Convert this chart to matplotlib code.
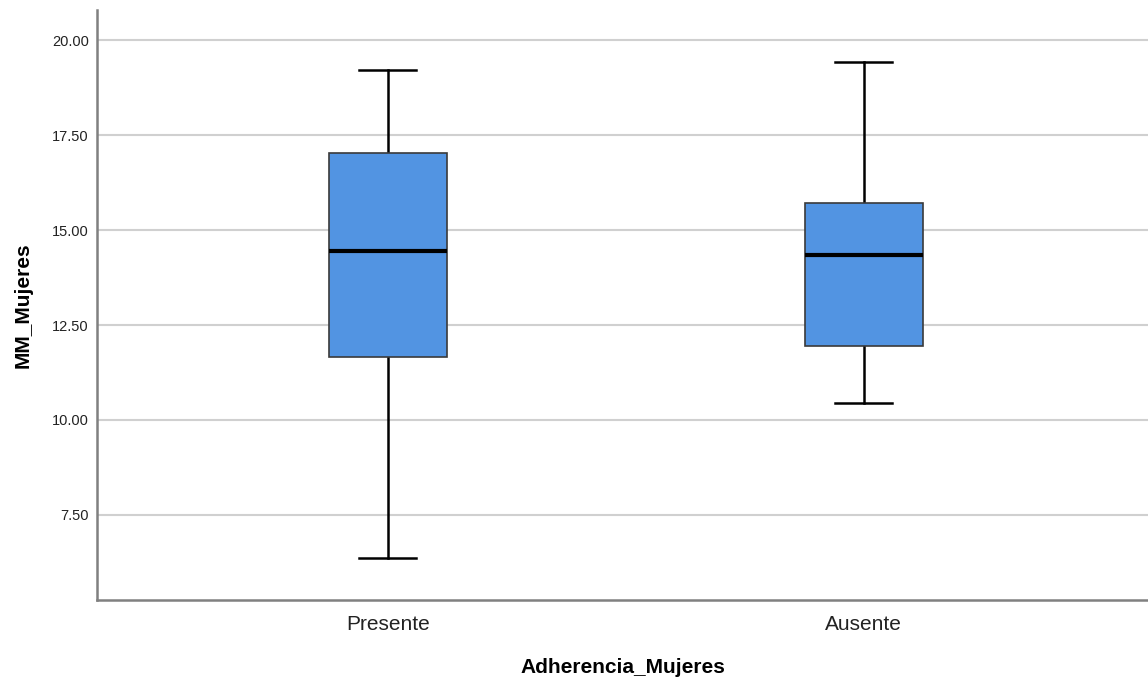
import matplotlib.pyplot as plt

plt.rcParams['font.family'] = ['Liberation Sans', 'DejaVu Sans']

groups = ['Presente', 'Ausente']
whislo = [6.37, 10.45]
q1 = [11.66, 11.95]
med = [14.45, 14.34]
q3 = [17.03, 15.71]
whishi = [19.21, 19.42]

stats = []
for i in range(len(groups)):
    stats.append({'label': groups[i], 'whislo': whislo[i], 'q1': q1[i],
                  'med': med[i], 'q3': q3[i], 'whishi': whishi[i], 'fliers': []})

fig = plt.figure(figsize=(11.48, 6.81), dpi=100)
ax = fig.add_axes([0.0845, 0.119, 0.9155, 0.866])

ax.bxp(stats, positions=[1, 2], widths=0.248, patch_artist=True, showfliers=False,
       boxprops=dict(facecolor='#5294e2', edgecolor='#3a3a3a', linewidth=1.2, zorder=4),
       medianprops=dict(color='black', linewidth=3, zorder=5),
       whiskerprops=dict(color='black', linewidth=1.8, zorder=3),
       capprops=dict(color='black', linewidth=1.8, zorder=3),
       capwidths=0.12)

ax.set_xlim(0.389, 2.597)
ax.set_ylim(5.26, 20.79)
ax.set_yticks([7.5, 10, 12.5, 15, 17.5, 20])
ax.set_yticklabels(['7.50', '10.00', '12.50', '15.00', '17.50', '20.00'])
ax.yaxis.grid(True, color='#d0d0d0', linewidth=1.5, zorder=0)
ax.set_axisbelow(True)

for s in ['top', 'right']:
    ax.spines[s].set_visible(False)
for s in ['left', 'bottom']:
    ax.spines[s].set_color('#808080')
    ax.spines[s].set_linewidth(1.8)

ax.tick_params(axis='y', length=0, pad=6, labelsize=10.5, labelcolor='#222222')
ax.tick_params(axis='x', length=0, pad=11, labelsize=15, labelcolor='#222222')

ax.set_xlabel('Adherencia_Mujeres', fontsize=15, fontweight='bold', labelpad=17)
ax.set_ylabel('MM_Mujeres', fontsize=15, fontweight='bold', labelpad=14)

fig.savefig('out.png', dpi=100)
